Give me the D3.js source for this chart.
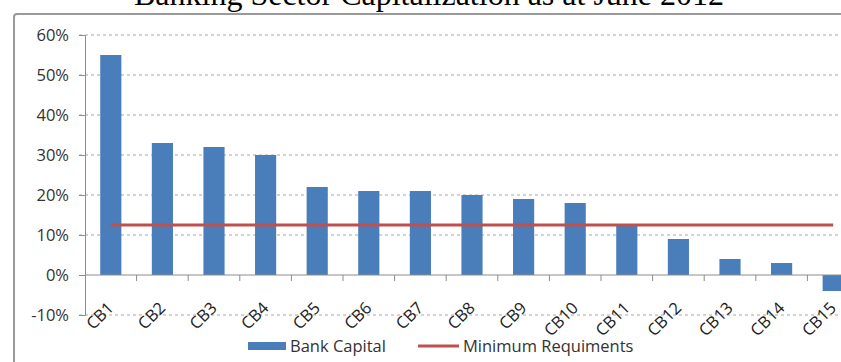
<!DOCTYPE html>
<html>
<head>
<meta charset="utf-8">
<script src="https://cdn.jsdelivr.net/npm/d3@7"></script>
<style>
  body { margin: 0; background: #fff; }
  svg { display: block; }
</style>
</head>
<body>
<svg id="chart" width="841" height="362"></svg>
<script>
// data
var banks = ["CB1","CB2","CB3","CB4","CB5","CB6","CB7","CB8","CB9","CB10","CB11","CB12","CB13","CB14","CB15"];
var bankCapital = [55, 33, 32, 30, 22, 21, 21, 20, 19, 18, 12.5, 9, 4, 3, -4];
var minRequirement = [12.5, 12.5, 12.5, 12.5, 12.5, 12.5, 12.5, 12.5, 12.5, 12.5, 12.5, 12.5, 12.5, 12.5, 12.5];
var yTicks = [-10, 0, 10, 20, 30, 40, 50, 60];

var barColor = "#4a7ebb", lineColor = "#c0504d";
var font = "'Open Sans', 'Liberation Sans', sans-serif";
var svg = d3.select("#chart");

// frame
svg.append("rect")
	.attr("x", 14).attr("y", 14)
	.attr("width", 860).attr("height", 400)
	.attr("rx", 3)
	.style("fill", "#fff")
	.style("stroke", "#9a9a9a")
	.style("stroke-width", 2);

// title, cut off by the top of the picture
svg.append("text")
	.attr("x", 429).attr("y", 5)
	.attr("text-anchor", "middle")
	.style("font-family", "'Liberation Serif', 'Times New Roman', serif")
	.style("font-size", "32px")
	.style("fill", "#000")
	.text("Banking Sector Capitalization as at June 2012");

var left = 85, plotW = 774;
var x = d3.scaleBand().domain(banks).range([left, left + plotW]).paddingInner(0.59).paddingOuter(0.295);
var xb = d3.scaleBand().domain(banks).range([left, left + plotW]);
var y = d3.scaleLinear().domain([-10, 60]).range([315, 35]);

// gridlines
svg.append("g").selectAll("line")
	.data(yTicks.filter(function(d) { return d != 0; }))
	.enter().append("line")
	.attr("x1", 79).attr("x2", 841)
	.attr("y1", function(d) { return y(d); })
	.attr("y2", function(d) { return y(d); })
	.style("stroke", "#a8a8a8")
	.style("stroke-width", 1)
	.style("stroke-dasharray", "3,3");

// y axis
var yAxis = d3.axisLeft(y).tickValues(yTicks).tickSize(6).tickPadding(10)
	.tickFormat(function(d) { return d + "%"; });
var ya = svg.append("g").attr("transform", "translate(" + left + ",0)").call(yAxis);
ya.select(".domain").style("stroke", "#8c8c8c");
ya.selectAll(".tick line").style("stroke", "#8c8c8c");
ya.selectAll("text")
	.style("font-family", font)
	.style("font-size", "16.5px")
	.style("fill", "#333");

// bars
svg.append("g").selectAll("rect")
	.data(bankCapital)
	.enter().append("rect")
	.attr("x", function(d, i) { return x(banks[i]); })
	.attr("width", x.bandwidth())
	.attr("y", function(d) { return y(Math.max(0, d)); })
	.attr("height", function(d) { return Math.abs(y(d) - y(0)); })
	.style("fill", barColor);

// zero line with category ticks
svg.append("line")
	.attr("x1", left).attr("x2", 841)
	.attr("y1", y(0)).attr("y2", y(0))
	.style("stroke", "#8c8c8c");
svg.append("g").selectAll("line")
	.data(banks)
	.enter().append("line")
	.attr("x1", function(d) { return xb(d) + xb.bandwidth(); })
	.attr("x2", function(d) { return xb(d) + xb.bandwidth(); })
	.attr("y1", y(0)).attr("y2", y(0) + 6)
	.style("stroke", "#8c8c8c");

// minimum requirement line
var line = d3.line()
	.x(function(d, i) { return x(banks[i]) + x.bandwidth() / 2; })
	.y(function(d) { return y(d); });
svg.append("path")
	.datum(minRequirement)
	.attr("d", line)
	.style("fill", "none")
	.style("stroke", lineColor)
	.style("stroke-width", 3);

// category labels
svg.append("g").selectAll("text")
	.data(banks)
	.enter().append("text")
	.attr("transform", function(d) {
		return "translate(" + (xb(d) + xb.bandwidth() / 2 + 4) + "," + 309 + ") rotate(-45)";
	})
	.attr("text-anchor", "end")
	.style("font-family", font)
	.style("font-size", "16.5px")
	.style("fill", "#222")
	.text(function(d) { return d; });

// legend
var lg = svg.append("g");
lg.append("rect").attr("x", 248).attr("y", 342).attr("width", 38).attr("height", 8).style("fill", barColor);
lg.append("text").attr("x", 290).attr("y", 352)
	.style("font-family", font)
	.style("font-size", "16.5px").style("fill", "#333")
	.text("Bank Capital");
lg.append("line").attr("x1", 418).attr("x2", 459).attr("y1", 346).attr("y2", 346)
	.style("stroke", lineColor).style("stroke-width", 3);
lg.append("text").attr("x", 463).attr("y", 352)
	.style("font-family", font)
	.style("font-size", "16.5px").style("fill", "#333")
	.text("Minimum Requiments");
</script>
</body>
</html>
